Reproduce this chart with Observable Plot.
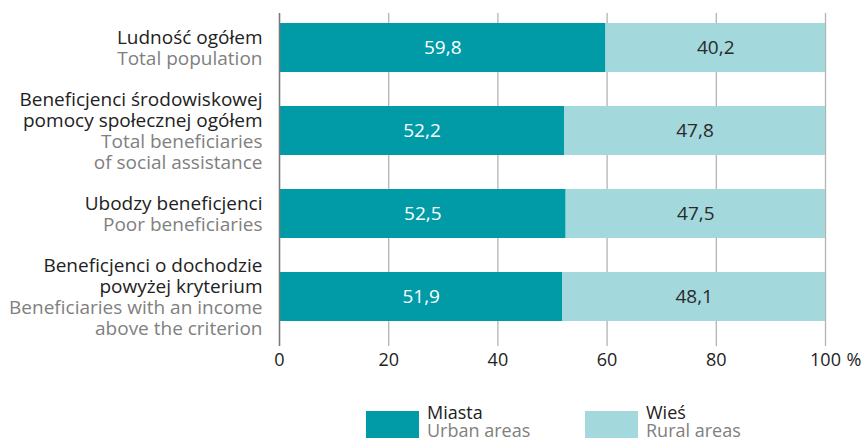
<!DOCTYPE html>
<html><head><meta charset="utf-8">
<script src="https://cdn.jsdelivr.net/npm/d3@7"></script>
<script src="https://cdn.jsdelivr.net/npm/@observablehq/plot@0.6"></script>
<style>
body{margin:0;background:#fff;font-family:"Open Sans",sans-serif;}
#wrap{position:relative;width:864px;height:441px;overflow:hidden;}
#wrap svg{position:absolute;left:0;top:0;}
.sw{position:absolute;width:53px;height:27px;}
.lt{position:absolute;font-size:18px;line-height:18px;white-space:nowrap;}
.lt .pl{color:#222;}
.lt .en{color:#808080;}
</style></head><body><div id="wrap"></div>
<script>
const keys = ["pop", "total", "poor", "above"];
const labelsPL = [["Ludność ogółem"], ["Beneficjenci środowiskowej", "pomocy społecznej ogółem"], ["Ubodzy beneficjenci"], ["Beneficjenci o dochodzie", "powyżej kryterium"]];
const labelsEN = [["Total population"], ["Total beneficiaries", "of social assistance"], ["Poor beneficiaries"], ["Beneficiaries with an income", "above the criterion"]];
const urban = [59.8, 52.2, 52.5, 51.9];
const rural = [40.2, 47.8, 47.5, 48.1];
const seriesPL = ["Miasta", "Wieś"];
const seriesEN = ["Urban areas", "Rural areas"];
const colors = ["#009ba6", "#a3d8dc"];
const xTicks = [0, 20, 40, 60, 80, 100];

const fmt = v => v.toFixed(1).replace(".", ",");
const data = [];
keys.forEach((k, i) => {
  data.push({key: k, series: seriesPL[0], value: urban[i]});
  data.push({key: k, series: seriesPL[1], value: rural[i]});
});
const labels = keys.map((k, i) => ({
  key: k,
  pl: labelsPL[i].join("\n") + "\n".repeat(labelsEN[i].length),
  en: "\n".repeat(labelsPL[i].length) + labelsEN[i].join("\n")
}));

const FS = 19, TFS = 18;
const chart = Plot.plot({
  width: 864, height: 385,
  marginLeft: 279, marginRight: 39, marginTop: 13, marginBottom: 39,
  x: {domain: [0, 100], axis: null},
  y: {domain: keys, paddingInner: 0.405, paddingOuter: 0.19, align: 0.28, axis: null},
  color: {domain: seriesPL, range: colors},
  style: {fontFamily: "Open Sans", fontSize: FS + "px", color: "#222", background: "#fff"},
  marks: [
    Plot.ruleX(xTicks.filter(d => d > 0), {stroke: "#b3b3b3", strokeWidth: 1.3}),
    Plot.barX(data, Plot.stackX({x: "value", y: "key", fill: "series", order: seriesPL})),
    Plot.ruleX([0], {stroke: "#7a7a7a", strokeWidth: 1.6}),
    Plot.text(data, Plot.stackX({x: "value", y: "key", z: "series", order: seriesPL,
      text: d => d.series === seriesPL[0] ? fmt(d.value) : "", fill: "#fff", fontSize: FS})),
    Plot.text(data, Plot.stackX({x: "value", y: "key", z: "series", order: seriesPL,
      text: d => d.series === seriesPL[1] ? fmt(d.value) : "", fill: "#2a2a2a", fontSize: FS})),
    Plot.text(labels, {y: "key", frameAnchor: "left", dx: -17, textAnchor: "end", text: "pl",
      fill: "#222", lineHeight: 1.1, fontSize: FS}),
    Plot.text(labels, {y: "key", frameAnchor: "left", dx: -17, textAnchor: "end", text: "en",
      fill: "#808080", lineHeight: 1.1, fontSize: FS}),
    Plot.axisX(xTicks, {tickSize: 0, tickPadding: 7, tickFormat: d => String(d), label: null,
      fontSize: TFS, fill: "#222"}),
    Plot.text(["%"], {x: () => 100, frameAnchor: "bottom", lineAnchor: "top", dy: 7, dx: 21,
      textAnchor: "start", fill: "#222", fontSize: TFS})
  ]
});
const wrap = document.getElementById("wrap");
wrap.appendChild(chart);

const legendX = [366, 585];
seriesPL.forEach((s, i) => {
  const sw = document.createElement("div");
  sw.className = "sw";
  sw.style.left = legendX[i] + "px";
  sw.style.top = "411px";
  sw.style.background = colors[i];
  wrap.appendChild(sw);
  const t = document.createElement("div");
  t.className = "lt";
  t.style.left = (legendX[i] + 61) + "px";
  t.style.top = "403px";
  t.innerHTML = `<div class="pl">${s}</div><div class="en">${seriesEN[i]}</div>`;
  wrap.appendChild(t);
});
</script></body></html>
